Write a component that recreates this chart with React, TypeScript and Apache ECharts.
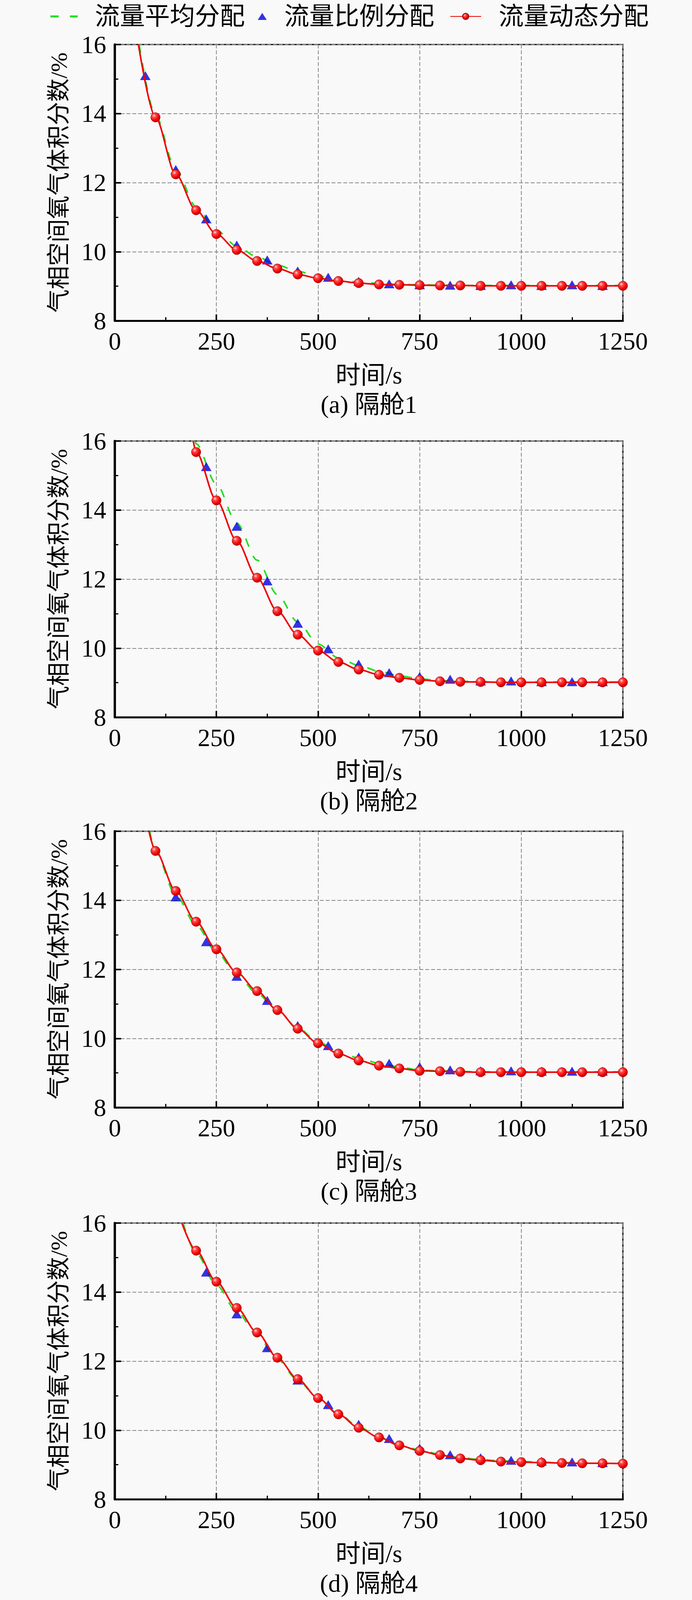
import React, { useEffect, useRef, useState } from "react";
import * as echarts from "echarts";

// ---------- data ----------
const T_RED = [100, 150, 200, 250, 300, 350, 400, 450, 500, 550, 600, 650, 700, 750, 800, 850, 900, 950, 1000, 1050, 1100, 1150, 1200, 1250];
const T_BLUE = [75, 150, 225, 300, 375, 450, 525, 600, 675, 750, 825, 900, 975, 1050, 1125, 1200];

const RED_START = [58, 193, 84, 165];
const GREEN_START = [60, 197, 86, 168];

const RED_1 = [13.89, 12.24, 11.2, 10.51, 10.05, 9.73, 9.51, 9.34, 9.23, 9.15, 9.09, 9.05, 9.04, 9.03, 9.02, 9.02, 9.01, 9.01, 9.01, 9.01, 9.01, 9.01, 9.01, 9.01];
const RED_2 = [null, null, 15.68, 14.28, 13.11, 12.04, 11.07, 10.39, 9.93, 9.6, 9.38, 9.23, 9.14, 9.08, 9.04, 9.025, 9.02, 9.01, 9.01, 9.01, 9.01, 9.01, 9.01, 9.01];
const RED_3 = [15.43, 14.27, 13.38, 12.58, 11.91, 11.37, 10.82, 10.28, 9.86, 9.56, 9.36, 9.21, 9.13, 9.06, 9.05, 9.03, 9.02, 9.02, 9.02, 9.02, 9.02, 9.02, 9.02, 9.02];
const RED_4 = [null, null, 15.2, 14.3, 13.54, 12.83, 12.1, 11.48, 10.93, 10.46, 10.07, 9.79, 9.56, 9.4, 9.28, 9.18, 9.13, 9.09, 9.075, 9.06, 9.05, 9.04, 9.04, 9.03];

const GREEN_1 = [13.95, 12.38, 11.3, 10.62, 10.16, 9.85, 9.61, 9.43, 9.29, 9.19, 9.12, 9.08, 9.05, 9.04, 9.03, 9.02, 9.02, 9.02, 9.02, 9.02, 9.02, 9.02, 9.02, 9.02];
const GREEN_2 = [null, null, 15.92, 14.75, 13.62, 12.55, 11.55, 10.76, 10.12, 9.72, 9.5, 9.33, 9.2, 9.11, 9.06, 9.04, 9.03, 9.02, 9.02, 9.02, 9.02, 9.02, 9.02, 9.02];
const GREEN_3 = [15.4, 14.15, 13.28, 12.5, 11.85, 11.3, 10.8, 10.3, 9.9, 9.62, 9.43, 9.28, 9.17, 9.08, 9.06, 9.04, 9.03, 9.03, 9.03, 9.03, 9.03, 9.03, 9.03, 9.03];
const GREEN_4 = [null, null, 15.12, 14.2, 13.44, 12.75, 12.05, 11.45, 10.92, 10.48, 10.1, 9.8, 9.58, 9.43, 9.3, 9.2, 9.15, 9.11, 9.09, 9.07, 9.06, 9.05, 9.05, 9.04];

const BLUE_1 = [15.1, 12.38, 10.95, 10.19, 9.76, 9.44, 9.26, 9.14, 9.07, 9.04, 9.03, 9.02, 9.04, 9.02, 9.04, 9.02];
const BLUE_2 = [null, null, 15.26, 13.53, 11.95, 10.72, 9.98, 9.54, 9.29, 9.18, 9.1, 9.05, 9.05, 9.03, 9.03, 9.03];
const BLUE_3 = [null, 14.1, 12.8, 11.8, 11.1, 10.37, 9.79, 9.46, 9.28, 9.18, 9.09, 9.06, 9.06, 9.05, 9.05, 9.05];
const BLUE_4 = [null, null, 14.58, 13.37, 12.39, 11.45, 10.74, 10.17, 9.76, 9.48, 9.29, 9.2, 9.13, 9.1, 9.08, 9.06];

const RED = [RED_1, RED_2, RED_3, RED_4];
const GREEN = [GREEN_1, GREEN_2, GREEN_3, GREEN_4];
const BLUE = [BLUE_1, BLUE_2, BLUE_3, BLUE_4];

const CAPTIONS = ["(a) 隔舱1", "(b) 隔舱2", "(c) 隔舱3", "(d) 隔舱4"];
const NAME_GREEN = "流量平均分配";
const NAME_BLUE = "流量比例分配";
const NAME_RED = "流量动态分配";
const X_NAME = "时间/s";
const Y_NAME = "气相空间氧气体积分数/%";
const X_MIN = 0, X_MAX = 1250, X_STEP = 250;
const Y_MIN = 8, Y_MAX = 16, Y_STEP = 2;
const START_VALUE = 16;

// ---------- layout (reference pixels) ----------
const W = 1772;
const REF_H = 4913;
const GRID_LEFT = 294;
const GRID_RIGHT = 177;
const GRID_TOPS = [137, 1354, 2552, 3756];
const GRID_H = 848;
const FONT = "'Liberation Serif', 'Times New Roman', 'Noto Sans CJK SC', serif";
const FS = 64;

function pairs(ts: number[], vs: (number | null)[]) {
  const out: number[][] = [];
  ts.forEach((t, i) => {
    const v = vs[i];
    if (v !== null && v !== undefined) out.push([t, v]);
  });
  return out;
}

function pageHeight() {
  const h = typeof window !== "undefined" ? window.innerHeight : REF_H;
  if (!h || h <= 0) return REF_H;
  return Math.min(h, REF_H);
}

export default function App() {
  const ref = useRef<HTMLDivElement>(null);
  const [H] = useState(pageHeight());

  useEffect(() => {
    document.body.style.margin = "0";
    document.body.style.background = "#f9f9f9";
    if (!ref.current) return;
    const sy = H / REF_H;
    const vy = (y: number) => Math.round(y * sy);
    const yNameFS = sy < 0.97 ? 60 : FS;

    const chart = echarts.init(ref.current, null, { renderer: "svg" });

    const redMarker = new echarts.graphic.RadialGradient(0.35, 0.32, 0.75, [
      { offset: 0, color: "#ffe0e0" },
      { offset: 0.25, color: "#ff4a4a" },
      { offset: 0.7, color: "#ee0000" },
      { offset: 1, color: "#b00000" },
    ]);

    const grids: any[] = [];
    const xAxes: any[] = [];
    const yAxes: any[] = [];
    const series: any[] = [];
    const graphics: any[] = [];
    const gridH = vy(GRID_H);

    GRID_TOPS.forEach((top0, i) => {
      const top = vy(top0);
      grids.push({
        left: GRID_LEFT,
        right: GRID_RIGHT,
        top,
        height: gridH,
        show: true,
        borderColor: "#000",
        borderWidth: 3,
        backgroundColor: "transparent",
      });
      xAxes.push({
        gridIndex: i,
        type: "value",
        min: X_MIN,
        max: X_MAX,
        interval: X_STEP,
        name: X_NAME,
        nameLocation: "middle",
        nameGap: vy(128),
        nameTextStyle: { fontFamily: FONT, fontSize: FS, color: "#000" },
        axisLine: { show: true, onZero: false, lineStyle: { color: "#000", width: 5 } },
        axisTick: { show: true, inside: true, length: 16, lineStyle: { color: "#000", width: 4 } },
        minorTick: { show: true, splitNumber: 2, length: 9, lineStyle: { color: "#000", width: 3 } },
        axisLabel: { fontFamily: FONT, fontSize: FS, color: "#000", margin: 20, formatter: (v: number) => String(v) },
        splitLine: { show: true, lineStyle: { color: "#888", width: 2, type: [10, 5] } },
      });
      yAxes.push({
        gridIndex: i,
        type: "value",
        min: Y_MIN,
        max: Y_MAX,
        interval: Y_STEP,
        name: Y_NAME,
        nameLocation: "middle",
        nameGap: 113,
        nameTextStyle: { fontFamily: FONT, fontSize: yNameFS, color: "#000" },
        axisLine: { show: true, onZero: false, lineStyle: { color: "#000", width: 6 } },
        axisTick: { show: true, inside: true, length: 16, lineStyle: { color: "#000", width: 4 } },
        minorTick: { show: true, splitNumber: 2, length: 9, lineStyle: { color: "#000", width: 3 } },
        axisLabel: { fontFamily: FONT, fontSize: FS, color: "#000", margin: 22 },
        splitLine: { show: true, lineStyle: { color: "#888", width: 2, type: [10, 5] } },
      });

      series.push({
        type: "line",
        name: NAME_GREEN,
        xAxisIndex: i,
        yAxisIndex: i,
        data: [[GREEN_START[i], START_VALUE], ...pairs(T_RED, GREEN[i])],
        symbol: "none",
        showSymbol: false,
        smooth: 0.3,
        smoothMonotone: "x",
        lineStyle: { color: "#22dd22", width: 4, type: [22, 26] },
        itemStyle: { color: "#22dd22" },
        z: 2,
      });
      series.push({
        type: "scatter",
        name: NAME_BLUE,
        xAxisIndex: i,
        yAxisIndex: i,
        data: pairs(T_BLUE, BLUE[i]),
        symbol: "triangle",
        symbolSize: [27, 23],
        itemStyle: { color: "#0000dd" },
        z: 3,
      });
      series.push({
        type: "line",
        name: NAME_RED,
        xAxisIndex: i,
        yAxisIndex: i,
        data: [
          { value: [RED_START[i], START_VALUE], symbol: "none" },
          ...pairs(T_RED, RED[i]),
        ],
        symbol: "circle",
        symbolSize: 24,
        showAllSymbol: true,
        smooth: 0.3,
        smoothMonotone: "x",
        lineStyle: { color: "#ee0000", width: 4 },
        itemStyle: { color: redMarker, borderColor: "#a00000", borderWidth: 1 },
        z: 4,
      });

      graphics.push({
        type: "text",
        x: GRID_LEFT + (W - GRID_LEFT - GRID_RIGHT) / 2,
        y: vy(top0 + GRID_H + 257),
        style: {
          text: CAPTIONS[i],
          fontFamily: FONT,
          fontSize: FS,
          fill: "#000",
          align: "center",
          verticalAlign: "middle",
        },
      });
    });

    const legendText = { fontFamily: FONT, fontSize: FS, color: "#000" };
    const legendTop = Math.max(0, vy(47) - 34);
    chart.setOption({
      animation: false,
      backgroundColor: "#f9f9f9",
      legend: [
        {
          data: [{ name: NAME_GREEN, icon: "path://M0 0H21V5H0Z M50 0H70V5H50Z" }],
          left: 124,
          top: legendTop,
          itemWidth: 70,
          itemHeight: 5,
          textStyle: { ...legendText, padding: [0, 0, 0, 39] },
        },
        {
          data: [NAME_BLUE],
          left: 655,
          top: legendTop,
          itemWidth: 23,
          itemHeight: 18,
          textStyle: { ...legendText, padding: [0, 0, 0, 40] },
        },
        {
          data: [NAME_RED],
          left: 1147,
          top: legendTop,
          itemWidth: 79,
          itemHeight: 20,
          textStyle: { ...legendText, padding: [0, 0, 0, 40] },
        },
      ],
      grid: grids,
      xAxis: xAxes,
      yAxis: yAxes,
      series,
      graphic: graphics,
    });

    return () => chart.dispose();
  }, [H]);

  return <div ref={ref} style={{ width: W, height: H }} />;
}
